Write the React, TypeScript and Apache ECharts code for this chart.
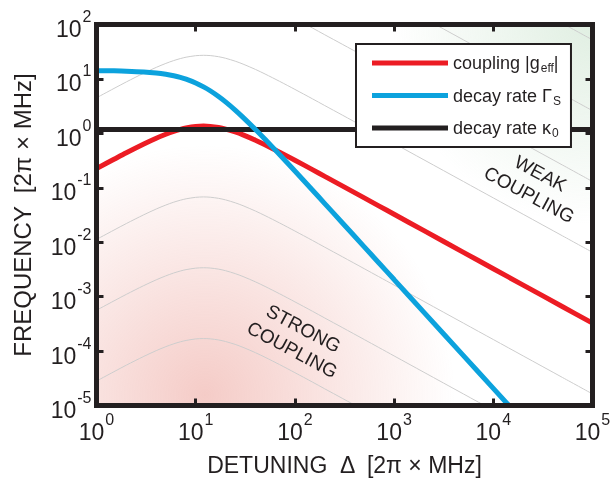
import React, { useEffect, useRef } from 'react';
import * as echarts from 'echarts';

// Detuning values (2π × MHz) at which the curves were read
const detuning = [1, 1.5, 2, 3, 4, 5, 6, 7, 8, 10, 12, 14, 17, 20, 25, 30, 40, 50, 70, 100, 150, 200, 300, 500, 700, 1000, 2000, 5000, 10000, 20000, 50000, 100000];
// coupling |g_eff|
const couplingG = [0.225, 0.334, 0.441, 0.639, 0.815, 0.964, 1.087, 1.182, 1.254, 1.336, 1.358, 1.342, 1.28, 1.199, 1.06, 0.937, 0.748, 0.616, 0.452, 0.321, 0.216, 0.162, 0.1085, 0.0652, 0.0466, 0.0326, 0.0163, 0.00652, 0.00326, 0.00163, 0.000652, 0.000326];
// decay rate Γ_S
const decayGamma = [14.2, 14.08, 13.91, 13.46, 12.87, 12.18, 11.44, 10.67, 9.9, 8.44, 7.15, 6.06, 4.76, 3.79, 2.68, 1.97, 1.181, 0.779, 0.408, 0.203, 0.0909, 0.0513, 0.02284, 0.00823, 0.0042, 0.00206, 0.000515, 0.0000824, 0.0000206, 0.00000515, 0.00000082, 0.000000206];
// decay rate κ_0 (constant)
const kappaX = [1, 100000];
const kappaY = [1.18, 1.18];
// background contour levels (relative to the coupling curve)
const contourLevels = [160000, 8000, 400, 20, 0.05, 0.0025, 0.000125];

const seriesNames = ['coupling |g_eff|', 'decay rate Γ_S', 'decay rate κ_0'];
const legendText: Record<string, string> = {
  'coupling |g_eff|': 'coupling |g{sub|eff}|',
  'decay rate Γ_S': 'decay rate Γ{sub|S}',
  'decay rate κ_0': 'decay rate κ{sub|0}',
};

const FONT = '"Liberation Sans", Arial, Helvetica, sans-serif';
const INK = '#231f20';

export default function App() {
  const ref = useRef<HTMLDivElement>(null);
  useEffect(() => {
    const chart = echarts.init(ref.current!, null, { renderer: 'svg' });
    const L = 96.5, R = 592.5, T = 24.5, B = 405.5;

    const supLabel = (v: number) => `{b|10}{s|${Math.round(Math.log10(v))}}`;
    const labelRich = {
      b: { fontSize: 23, lineHeight: 23, verticalAlign: 'bottom', fontFamily: FONT, color: INK },
      s: { fontSize: 16, lineHeight: 32, verticalAlign: 'top', padding: [0, 0, 0, 1], fontFamily: FONT, color: INK },
    };
    const axisCommon = {
      type: 'log',
      logBase: 10,
      interval: 1,
      splitLine: { show: false },
      minorTick: { show: false },
      axisLine: { show: true, onZero: false, lineStyle: { color: INK, width: 5, cap: 'square' } },
      axisTick: { show: true, inside: true, length: 7, lineStyle: { color: INK, width: 3 } },
      z: 10,
    };

    const contourSeries = contourLevels.map((lv) => ({
      type: 'line',
      data: detuning.map((d, i) => [d, couplingG[i] * lv]),
      showSymbol: false,
      smooth: 0.3,
      silent: true,
      lineStyle: { color: '#cdcdcd', width: 1 },
      z: 1,
    }));

    chart.setOption({
      animation: false,
      grid: { left: L, right: 610 - R, top: T, bottom: 478 - B, containLabel: false, outerBoundsMode: 'none' },
      xAxis: [
        {
          ...axisCommon,
          position: 'bottom',
          min: 1,
          max: 100000,
          axisLabel: { show: true, margin: 6, formatter: supLabel, rich: labelRich },
          name: 'DETUNING  Δ  [2π × MHz]',
          nameLocation: 'middle',
          nameGap: 48,
          nameTextStyle: { fontSize: 23, fontFamily: FONT, color: INK },
        },
        { ...axisCommon, position: 'top', min: 1, max: 100000, axisLabel: { show: false } },
      ],
      yAxis: [
        {
          ...axisCommon,
          position: 'left',
          min: 0.00001,
          max: 100,
          axisLabel: { show: true, margin: 5, formatter: supLabel, rich: labelRich },
          name: 'FREQUENCY  [2π × MHz]',
          nameLocation: 'middle',
          nameGap: 62,
          nameTextStyle: { fontSize: 24, fontFamily: FONT, color: INK },
        },
        { ...axisCommon, position: 'right', min: 0.00001, max: 100, axisLabel: { show: false } },
      ],
      legend: {
        data: seriesNames,
        orient: 'vertical',
        left: 356,
        top: 44,
        padding: [8, 10, 8, 16],
        itemGap: 10.5,
        itemWidth: 76,
        itemHeight: 5,
        icon: 'rect',
        backgroundColor: '#ffffff',
        borderColor: INK,
        borderWidth: 2,
        borderRadius: 0,
        selectedMode: false,
        formatter: (name: string) => legendText[name],
        textStyle: {
          fontSize: 18,
          lineHeight: 22,
          fontFamily: FONT,
          color: INK,
          rich: {
            sub: { fontSize: 12, lineHeight: 12, verticalAlign: 'bottom', padding: [0, 0, 0, 1], fontFamily: FONT, color: INK },
          },
        },
      },
      graphic: {
        elements: [
          {
            type: 'rect',
            silent: true,
            z: -10,
            shape: { x: L, y: T, width: R - L, height: B - T },
            style: {
              fill: new echarts.graphic.RadialGradient(205, 395, 250, [
                { offset: 0, color: 'rgba(228,120,108,0.38)' },
                { offset: 0.5, color: 'rgba(228,120,108,0.19)' },
                { offset: 1, color: 'rgba(228,120,108,0)' },
              ], true),
            },
          },
          {
            type: 'rect',
            silent: true,
            z: -10,
            shape: { x: L, y: T, width: R - L, height: B - T },
            style: {
              fill: new echarts.graphic.RadialGradient(R, T, 200, [
                { offset: 0, color: 'rgba(160,205,165,0.32)' },
                { offset: 1, color: 'rgba(160,205,165,0)' },
              ], true),
            },
          },
          {
            type: 'text',
            x: 298,
            y: 339,
            rotation: -0.49,
            z: 5,
            silent: true,
            style: { text: 'STRONG\nCOUPLING', fontSize: 19, fontFamily: FONT, fill: INK, align: 'center', verticalAlign: 'middle', lineHeight: 24 },
          },
          {
            type: 'text',
            x: 535,
            y: 184,
            rotation: -0.49,
            z: 5,
            silent: true,
            style: { text: 'WEAK\nCOUPLING', fontSize: 19, fontFamily: FONT, fill: INK, align: 'center', verticalAlign: 'middle', lineHeight: 24 },
          },
        ],
      },
      series: [
        ...contourSeries,
        {
          name: seriesNames[0],
          type: 'line',
          data: detuning.map((d, i) => [d, couplingG[i]]),
          showSymbol: false,
          smooth: 0.3,
          color: '#ec1c24',
          lineStyle: { color: '#ec1c24', width: 5 },
          z: 2,
        },
        {
          name: seriesNames[2],
          type: 'line',
          data: kappaX.map((d, i) => [d, kappaY[i]]),
          showSymbol: false,
          color: INK,
          lineStyle: { color: INK, width: 5 },
          z: 2,
        },
        {
          name: seriesNames[1],
          type: 'line',
          data: detuning.map((d, i) => [d, decayGamma[i]]),
          showSymbol: false,
          smooth: 0.3,
          color: '#0ca2dd',
          lineStyle: { color: '#0ca2dd', width: 5 },
          z: 2,
        },
      ],
    });
    return () => chart.dispose();
  }, []);
  return <div ref={ref} style={{ position: 'fixed', left: 0, top: 0, width: 610, height: 478 }} />;
}
